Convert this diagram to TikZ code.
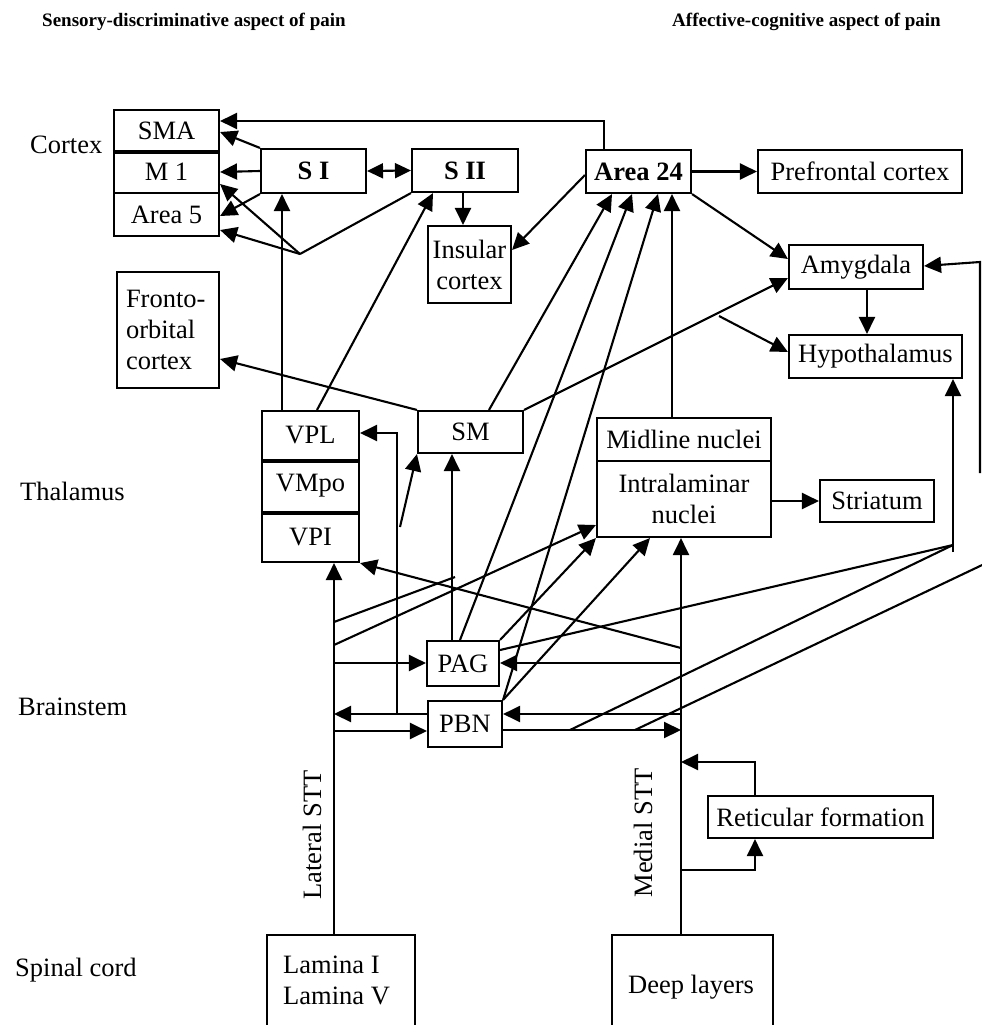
\documentclass[tikz,border=0pt]{standalone}
\usepackage{fontspec}
\setmainfont{Liberation Serif}
\usetikzlibrary{arrows.meta}
\begin{document}
\begin{tikzpicture}[x=1pt,y=-1pt,
  txt/.style={font=\fontsize{26.5}{31}\selectfont, inner sep=0pt},
  box/.style={txt, draw, line width=2.1pt, align=center},
  bbox/.style={box, font=\bfseries\fontsize{26.5}{31}\selectfont},
  ln/.style={line width=2.1pt},
  arr/.style={line width=2.1pt, -{Triangle[length=17pt,width=16pt]}},
  arrtwo/.style={line width=2.1pt, {Triangle[length=16pt,width=15pt]}-{Triangle[length=16pt,width=15pt]}},
  ttl/.style={font=\bfseries\fontsize{19}{22}\selectfont, inner sep=0pt, anchor=west},
  lbl/.style={txt, anchor=west}]
\useasboundingbox (0,0) rectangle (982,1025);
\clip (0,0) rectangle (982,1025);

% titles and row labels
\node[ttl] (t1) at (42,22) {Sensory-discriminative aspect of pain};
\node[ttl] (t2) at (672,22) {Affective-cognitive aspect of pain};
\node[lbl] (lcx) at (30,145) {Cortex};
\node[lbl] (lth) at (20,491) {Thalamus};
\node[lbl] (lbs) at (18,707) {Brainstem};
\node[lbl] (lsc) at (15,970) {Spinal cord};

% cortex
\node[box, minimum width=105pt, minimum height=41pt] (sma) at (166.5,130.5) {SMA};
\node[box, minimum width=105pt, minimum height=42pt] (m1) at (166.5,172) {M 1};
\node[box, minimum width=105pt, minimum height=43pt] (a5) at (166.5,214.5) {Area 5};
\draw[line width=4pt] (sma.south west) -- (sma.south east);
\node[bbox, minimum width=105pt, minimum height=44pt] (si) at (313.5,171) {S I};
\node[bbox, minimum width=106pt, minimum height=43pt] (sii) at (465,170.5) {S II};
\node[box, minimum width=83pt, minimum height=77pt] (ins) at (469.5,264.5) {Insular\\cortex};
\node[bbox, minimum width=105pt, minimum height=43pt] (a24) at (638.5,171.5) {Area 24};
\node[box, minimum width=204pt, minimum height=43pt] (pf) at (860,171.5) {Prefrontal cortex};
\node[box, minimum width=134pt, minimum height=44pt] (amy) at (856,267) {Amygdala};
\node[box, minimum width=173pt, minimum height=43pt] (hyp) at (875.5,356.5) {Hypothalamus};
\node[box, minimum width=102pt, minimum height=116pt, text width=84pt, align=left] (fo) at (168,330) {Fronto-\\orbital\\cortex};

% thalamus
\node[box, minimum width=97pt, minimum height=49pt] (vpl) at (310.5,435.5) {VPL};
\node[box, minimum width=97pt, minimum height=52pt] (vmpo) at (310.5,486) {VMpo};
\node[box, minimum width=97pt, minimum height=50pt] (vpi) at (310.5,537) {VPI};
\draw[line width=4pt] (vpl.south west) -- (vpl.south east);
\draw[line width=4pt] (vmpo.south west) -- (vmpo.south east);
\node[box, minimum width=105pt, minimum height=42pt] (sm) at (470.5,432) {SM};
\node[box, minimum width=174pt, minimum height=43pt] (mid) at (684,439.5) {Midline nuclei};
\node[box, minimum width=174pt, minimum height=76pt] (intra) at (684,499) {Intralaminar\\nuclei};
\node[box, minimum width=114pt, minimum height=42pt] (str) at (877,501) {Striatum};

% brainstem
\node[box, minimum width=72pt, minimum height=45pt] (pag) at (463,663.5) {PAG};
\node[box, minimum width=74pt, minimum height=46pt] (pbn) at (465,724) {PBN};
\node[box, minimum width=225pt, minimum height=42pt] (ret) at (820.5,817) {Reticular formation};

% spinal cord
\draw[ln] (267,1040) |- (415,935) -- (415,1040);
\draw[ln] (612,1040) |- (773,935) -- (773,1040);
\coordinate (latb) at (334,935);
\coordinate (medb) at (681,935);
\node[txt, anchor=west, align=left] (lam) at (283,980) {Lamina I\\Lamina V};
\node[txt, anchor=west] (deep) at (628,987) {Deep layers};

% tract labels
\node[txt, rotate=90] (latl) at (312,835) {Lateral STT};
\node[txt, rotate=90] (medl) at (643,833) {Medial STT};

% coordinates
\coordinate (j1) at (300,254);
\coordinate (j2) at (953,545);
\coordinate (f1) at (400,527);
\coordinate (f3) at (719,316);

% cortex connectors
\draw[arr] (a24.north -| 604,0) |- (sma.east |- 0,121);
\draw[arr] (si.north west) -- (sma.east |- 0,132);
\draw[arr] (si.west) -- (m1.east);
\draw[arr] (si.south west) -- (a5.east |- 0,216);
\draw[arrtwo] (si.east) -- (sii.west);
\draw[ln] (sii.south west) -- (j1);
\draw[arr] (j1) -- (m1.east |- 0,184);
\draw[arr] (j1) -- (a5.east |- 0,230);
\draw[arr] (463,0 |- sii.south) -- (463,0 |- ins.north);
\draw[arr] (a24.west |- 0,175) -- (ins.east |- 0,250);
\draw[arr] (a24.east) -- (pf.west);
\draw[arr] (a24.south east) -- (amy.west |- 0,259);
\draw[arr] (867,0 |- amy.south) -- (867,0 |- hyp.north);
\draw[arr] (f3) -- (hyp.west |- 0,352);
\draw[arr] (980,473) -- (980,262) -- (amy.east |- 0,266);

% thalamus -> cortex
\draw[arr] (282,0 |- vpl.north) -- (282,0 |- si.south);
\draw[arr] (317,0 |- vpl.north) -- (433,0 |- sii.south);
\draw[arr] (sm.north west) -- (fo.east |- 0,359);
\draw[arr] (sm.north east) -- (amy.west |- 0,278);
\draw[arr] (489,0 |- sm.north) -- (612,0 |- a24.south);
\draw[arr] (672,0 |- mid.north) -- (672,0 |- a24.south);
\draw[arr] (intra.east |- str.west) -- (str.west);
\draw[arr] (f1) -- (sm.south west);

% brainstem connectors
\draw[arr] (452,0 |- pag.north) -- (452,0 |- sm.south);
\draw[arr] (460,0 |- pag.north) -- (632,0 |- a24.south);
\draw[arr] (pbn.north east) -- (658,0 |- a24.south);
\draw[arr] (pag.north east) -- (intra.south west);
\draw[arr] (pbn.north east) -- (650,0 |- intra.south);
\draw[arr] (334,645) -- (intra.west |- 0,525);
\draw[ln] (334,622) -- (455,577);
\draw[arr] (681,648) -- (vpi.south east);
\draw[ln] (pag.east |- 0,650) -- (j2);
\draw[ln] (570,730) -- (j2);
\draw[arr] (953,552) -- (953,0 |- hyp.south);
\draw[ln] (635,730) -- (999,557);
\draw[arr] (334,663) -- (pag.west |- 0,663);
\draw[arr] (681,663) -- (pag.east |- 0,663);
\draw[arr] (pbn.west |- 0,714) -- (334,714);
\draw[arr] (334,731) -- (pbn.west |- 0,731);
\draw[arr] (681,714) -- (pbn.east |- 0,714);
\draw[arr] (pbn.east |- 0,730) -- (681,730);
\draw[arr] (397,714) -- (397,433) -- (vpl.east |- 0,433);

% spinothalamic tracts
\draw[arr] (latb) -- (334,0 |- vpi.south);
\draw[arr] (medb) -- (681,0 |- intra.south);
\draw[arr] (681,870) -| (755,0 |- ret.south);
\draw[arr] (755,0 |- ret.north) |- (681,762);
\end{tikzpicture}
\end{document}
